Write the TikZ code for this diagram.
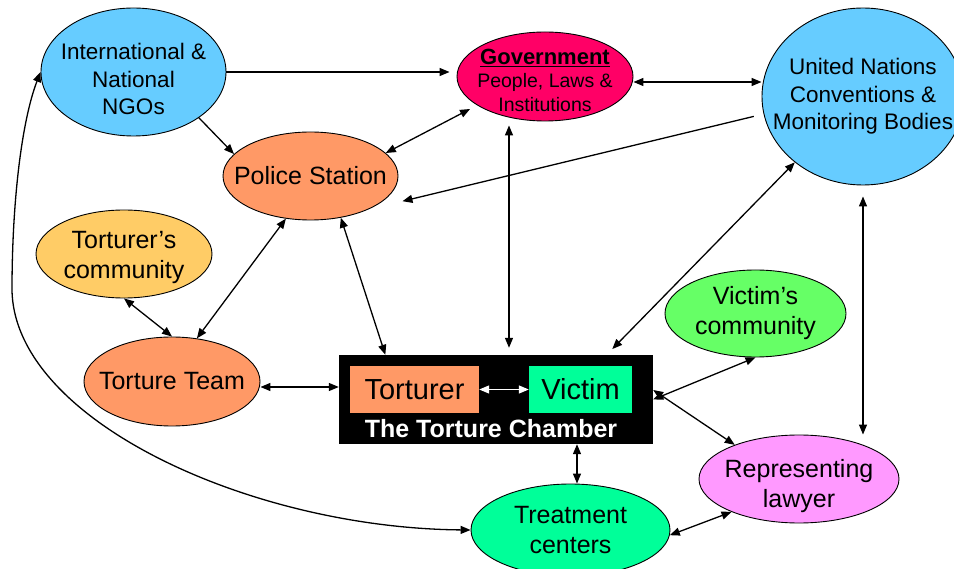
\documentclass[tikz,border=0pt]{standalone}
\usepackage{fontspec}
\setmainfont{Liberation Sans}
\usetikzlibrary{shapes.geometric, arrows.meta}

\definecolor{ngoblue}{HTML}{66CCFF}
\definecolor{govred}{HTML}{FF0066}
\definecolor{salmon}{HTML}{FF9966}
\definecolor{tcommgold}{HTML}{FFCC66}
\definecolor{vcommgreen}{HTML}{66FF66}
\definecolor{mint}{HTML}{00FF99}
\definecolor{lawyerpink}{HTML}{FF99FF}

\begin{document}
\begin{tikzpicture}[x=1pt, y=-1pt, >={Triangle[length=10pt, width=8pt]},
  bubble/.style={ellipse, draw, line width=0.9pt, inner sep=-60pt, align=center,
    font=\fontsize{25}{30}\selectfont},
  link/.style={->, line width=1.3pt},
  both/.style={<->, line width=1.3pt}]

\useasboundingbox (0,0) rectangle (954,569);

% the actors
\node[bubble, fill=ngoblue, minimum width=185pt, minimum height=128pt,
  font=\fontsize{22.5}{27.5}\selectfont] (ngo) at (133.5,72) {\rule{0pt}{30.5pt}International \&\\National\\NGOs};
\node[bubble, fill=govred, minimum width=176pt, minimum height=89pt,
  font=\fontsize{19.5}{23.5}\selectfont] (gov) at (545,76.5)
  {{\fontsize{22}{26}\selectfont\bfseries\rule{0pt}{23pt}\underline{Government}}\\People, Laws \&\\Institutions};
\node[bubble, fill=ngoblue, minimum width=202pt, minimum height=177pt,
  font=\fontsize{22.5}{27.5}\selectfont] (un) at (863,96.5) {United Nations\\Conventions \&\\Monitoring Bodies};
\node[bubble, fill=salmon, minimum width=175pt, minimum height=88pt] (police) at (310.5,176) {Police Station};
\node[bubble, fill=tcommgold, minimum width=176pt, minimum height=88pt] (tcomm) at (124,254) {\rule{0pt}{24pt}Torturer’s\\community};
\node[bubble, fill=salmon, minimum width=176pt, minimum height=89pt] (team) at (172,381.5) {Torture Team};
\node[bubble, fill=vcommgreen, minimum width=181pt, minimum height=87pt] (vcomm) at (755.5,313.5) {Victim’s\\community};
\node[bubble, fill=lawyerpink, minimum width=200pt, minimum height=88pt] (lawyer) at (799,479) {\rule{0pt}{32pt}Representing\\lawyer};
\node[bubble, fill=mint, minimum width=199pt, minimum height=92pt] (treat) at (570.5,530) {Treatment\\centers};

% the torture chamber
\node[rectangle, fill=black, inner sep=0pt, minimum width=314pt, minimum height=89pt] (chamber) at (496,399.5) {};
\node[rectangle, fill=salmon, inner sep=0pt, minimum width=129pt, minimum height=47pt,
  font=\fontsize{29}{34}\selectfont] (torturer) at (414.5,389.5) {Torturer};
\node[rectangle, fill=mint, inner sep=0pt, minimum width=103pt, minimum height=47pt,
  font=\fontsize{29}{34}\selectfont] (victim) at (580.5,389.5) {Victim};
\node[text=white, font=\fontsize{25}{30}\selectfont\bfseries] (ctitle) at (491,429) {The Torture Chamber};

% NGOs -> Government
\draw[link, shorten >=7pt] (ngo.east) -- (ngo.east -| gov.west);

% NGOs -> Police Station
\draw[link] (ngo.-35) -- (police.164);

% Police Station <-> Government
\draw[both, shorten >=8pt] (police.17) -- (gov.203);

% Government <-> UN
\draw[both] ([yshift=-5.5pt]gov.east) -- ([yshift=-5.5pt]gov.east -| un.west);

% UN -> Police Station
\draw[link, shorten <=10pt, shorten >=35pt] (un.190) -- (police.-30);

% Government <-> Torture Chamber
\draw[both, shorten <=7pt, shorten >=4pt] ([xshift=13pt]chamber.north) -- ([xshift=13pt]chamber.north |- gov.south);

% UN <-> Torture Chamber
\draw[both, shorten >=8pt] (un.224) -- (chamber.22);

% UN <-> Lawyer
\draw[both, shorten <=11pt] (un.south) -- (un.south |- lawyer.north);

% Police Station <-> Torture Team
\draw[both] (police.240) -- (team.60);

% Police Station <-> Torture Chamber
\draw[both] (police.-54) -- (chamber.158);

% Torturer's community <-> Torture Team
\draw[both] (tcomm.south) -- (team.north);

% Torture Team <-> Torture Chamber
\draw[both] ([yshift=-5.5pt]team.east) -- ([yshift=-5.5pt]team.east -| chamber.west);

% Torturer <-> Victim
\draw[<->, white, line width=1.3pt] (torturer.east) -- (victim.west);

% Victim <-> Victim's community
\draw[both] (chamber.east) -- (vcomm.south);

% Victim <-> Lawyer
\draw[both] ([yshift=9.5pt]chamber.east) -- (lawyer.152);

% Torture Chamber <-> Treatment centers
\draw[both] ([xshift=6.5pt]treat.north) -- ([xshift=6.5pt]treat.north |- chamber.south);

% Treatment centers <-> Lawyer
\draw[both] (treat.-3) -- (lawyer.206);

% NGOs <-> Treatment centers, round the left side
\draw[both] (ngo.west) .. controls (22,120) and (12,200) .. (12,290)
  .. controls (14,420) and (250,528) .. (treat.west);

\end{tikzpicture}
\end{document}
